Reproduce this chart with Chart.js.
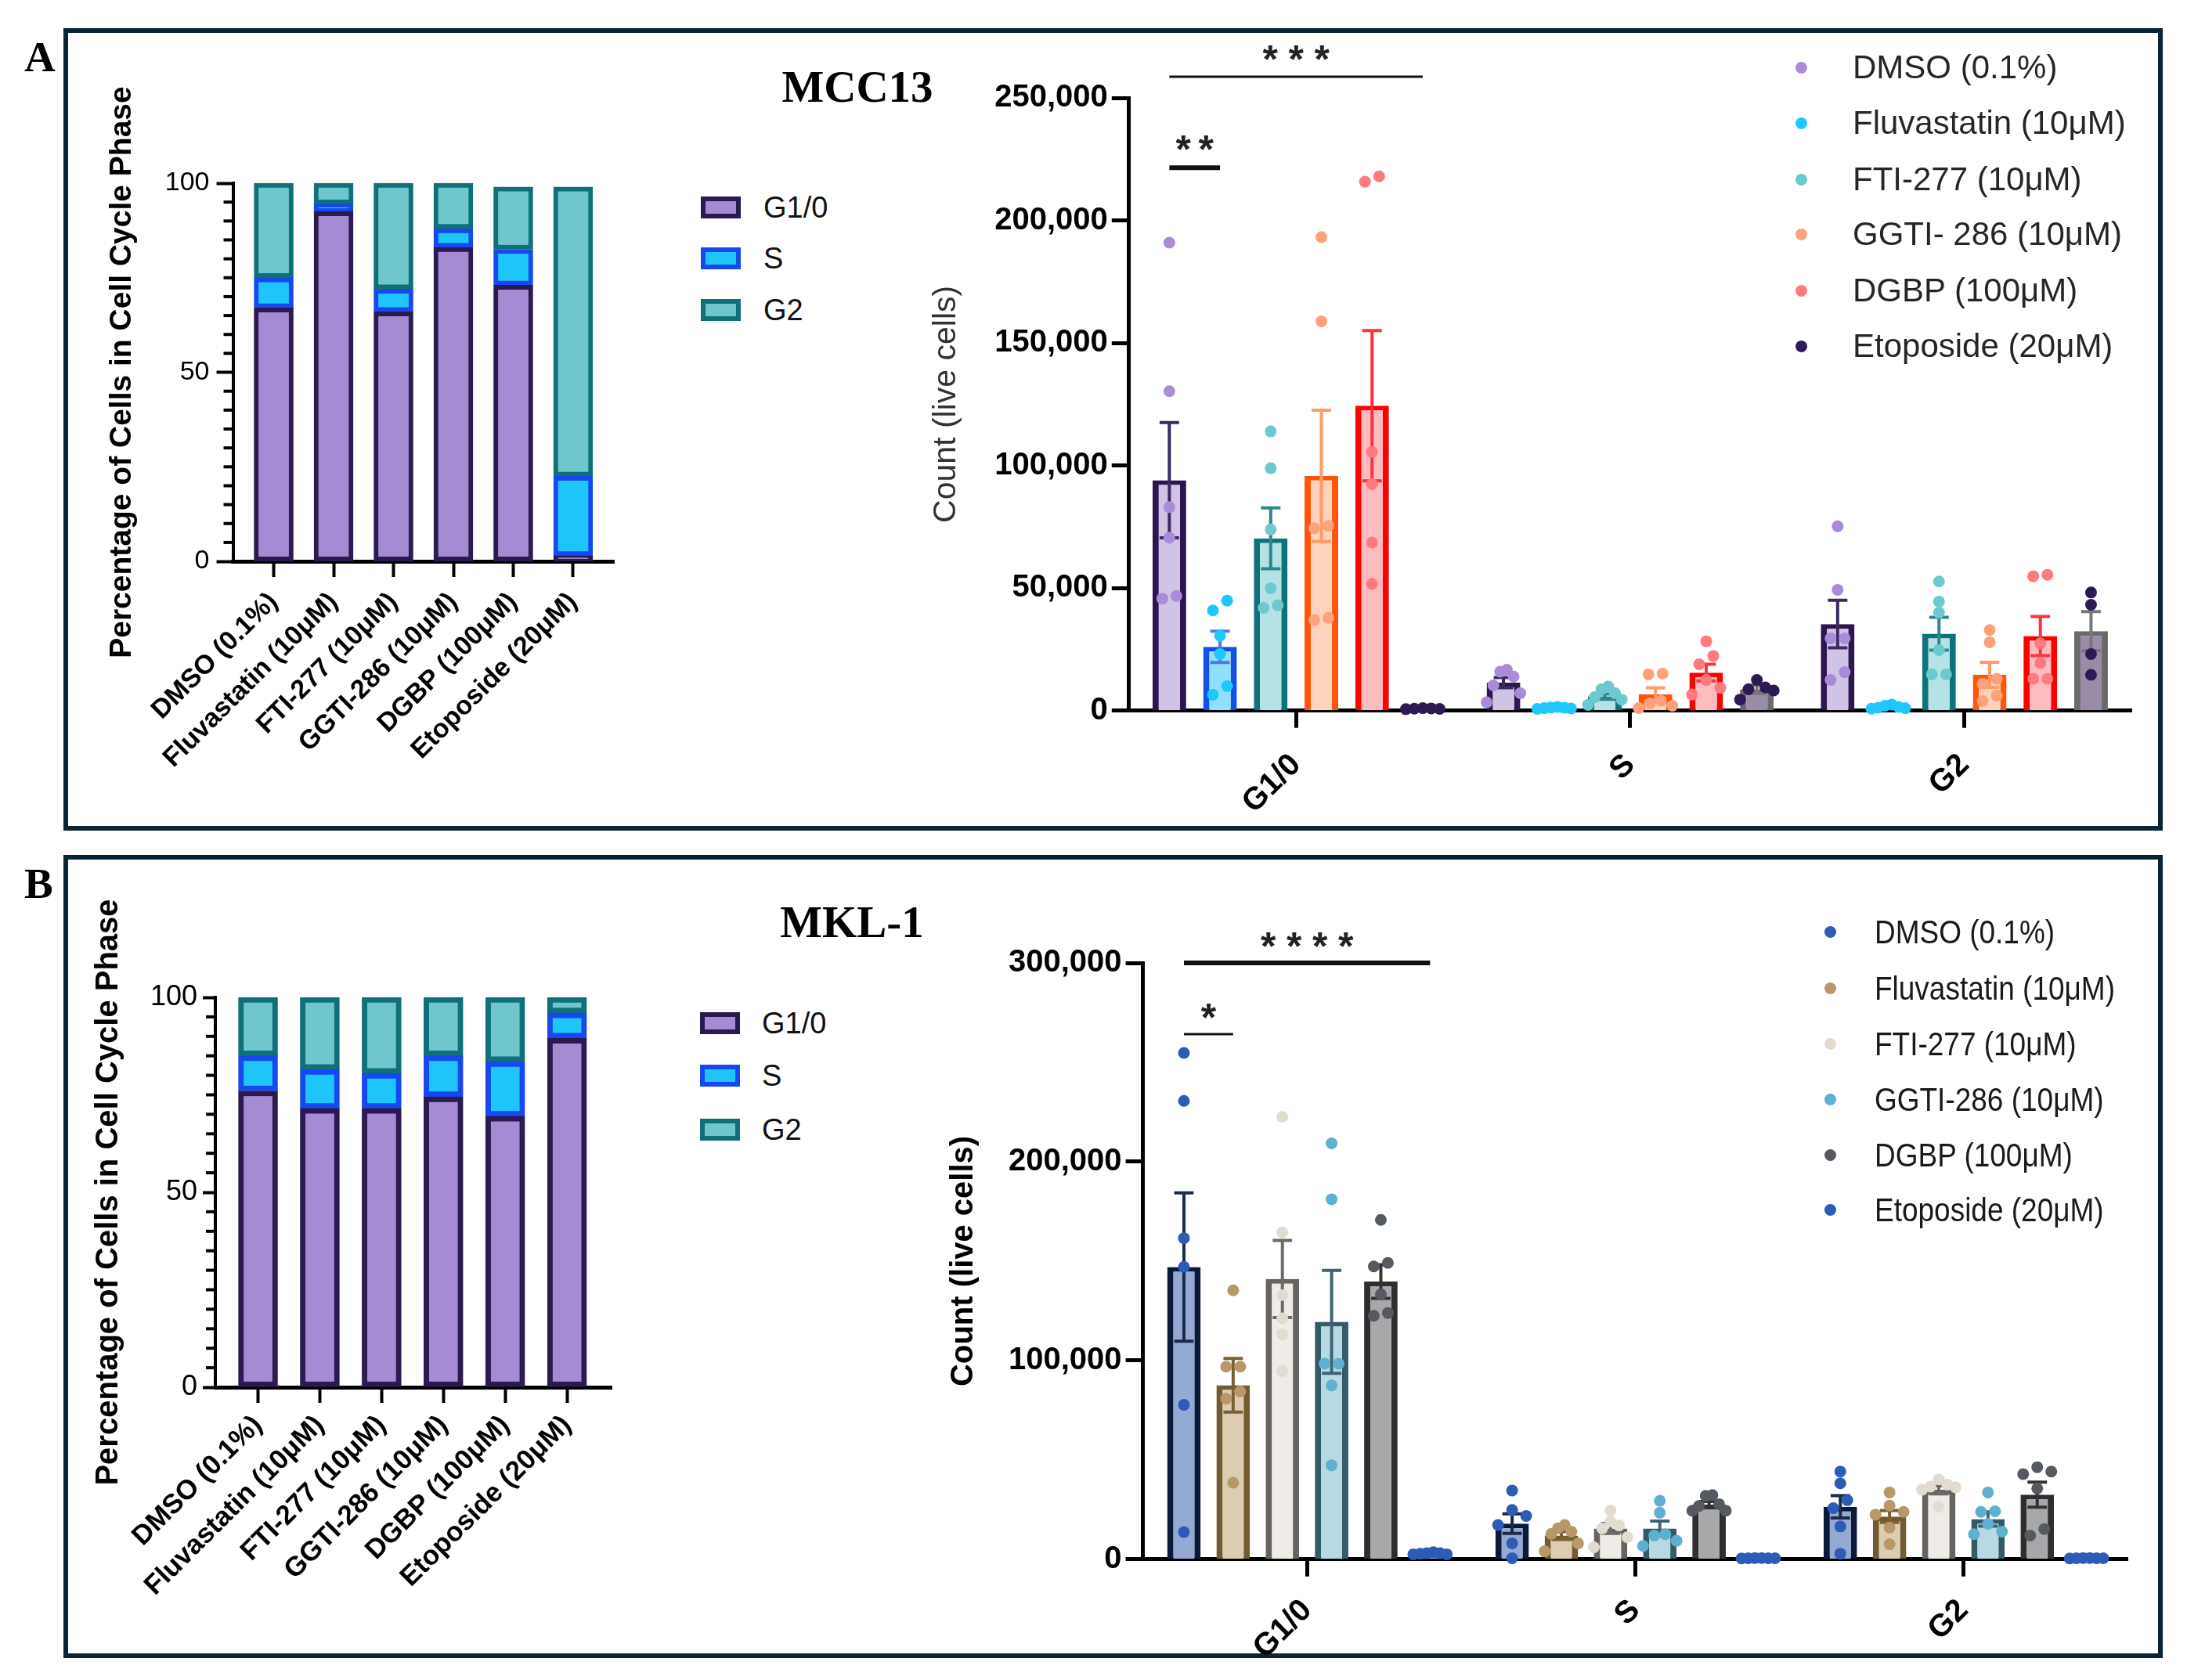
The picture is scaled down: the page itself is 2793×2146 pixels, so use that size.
<!DOCTYPE html>
<html lang="en"><head><meta charset="utf-8"><title>MCC13 / MKL-1 cell cycle</title>
<script src="https://cdn.jsdelivr.net/npm/chart.js@4.4.1/dist/chart.umd.min.js"></script>
<style>
html,body{margin:0;padding:0;background:#fff;}
body{position:relative;width:2793px;height:2146px;overflow:hidden;font-family:"Liberation Sans",Arial,sans-serif;color:#000;}
.frame{position:absolute;box-sizing:border-box;border:6px solid #0b2434;}
.serif{position:absolute;font-family:"Liberation Serif","Times New Roman",serif;font-weight:bold;line-height:1;white-space:nowrap;}
.wrap{position:absolute;left:0;top:0;}
.wrap canvas{display:block;}
.lg{position:absolute;white-space:nowrap;line-height:1;transform-origin:0 50%;}
.sq{position:absolute;box-sizing:border-box;}
.dot{position:absolute;border-radius:50%;}
</style></head><body>
<div class="frame" style="left:81px;top:36px;width:2681px;height:1025px"></div>
<div class="frame" style="left:81px;top:1092px;width:2681px;height:1026px"></div>
<div class="serif" style="left:31px;top:45px;font-size:55px">A</div>
<div class="serif" style="left:31px;top:1101px;font-size:55px">B</div>
<div class="serif" style="left:1095px;top:82px;font-size:57px;transform:translateX(-50%)">MCC13</div>
<div class="serif" style="left:1088px;top:1149px;font-size:57px;transform:translateX(-50%)">MKL-1</div>
<div class="wrap" id="wA1"><canvas id="cA1" width="1000" height="1000"></canvas></div>
<div class="wrap" id="wA2"><canvas id="cA2" width="1600" height="1100"></canvas></div>
<div class="wrap" id="wB1"><canvas id="cB1" width="1000" height="1000"></canvas></div>
<div class="wrap" id="wB2"><canvas id="cB2" width="1600" height="1100"></canvas></div>
<div id="legends"></div>
<script>
// ================= DATA =================
const phaseLabels = ['G1/0', 'S', 'G2'];
const pctCategories = ['DMSO (0.1%)', 'Fluvastatin (10μM)', 'FTI-277 (10μM)', 'GGTI-286 (10μM)', 'DGBP (100μM)', 'Etoposide (20μM)'];

// Percentage of cells in each phase (stacked bars)
const mcc13PctG1 = [67, 92.5, 66, 83, 73, 1.5];
const mcc13PctS  = [8, 2, 6, 5, 9.5, 21];
const mcc13PctG2 = [25, 5.5, 28, 12, 16.5, 76.5];

const mkl1PctG1 = [76, 71.5, 71.5, 74.5, 69.5, 89.5];
const mkl1PctS  = [9, 10, 9, 10.5, 14, 6.5];
const mkl1PctG2 = [15, 18.5, 19.5, 15, 16.5, 4];

// Treatments (legend of the count charts)
const mcc13Treatments = ['DMSO (0.1%)', 'Fluvastatin (10μM)', 'FTI-277 (10μM)', 'GGTI- 286 (10μM)', 'DGBP (100μM)', 'Etoposide (20μM)'];
const mkl1Treatments  = ['DMSO (0.1%)', 'Fluvastatin (10μM)', 'FTI-277 (10μM)', 'GGTI-286 (10μM)', 'DGBP (100μM)', 'Etoposide (20μM)'];

// MCC13 counts: mean and SEM per phase (one value per treatment)
const mcc13MeanG1 = [94000, 26000, 70300, 95800, 124400, 800];
const mcc13MeanS  = [11400, 1100, 5800, 6600, 15500, 8700];
const mcc13MeanG2 = [35300, 1500, 31400, 14600, 30400, 32400];
const mcc13SemG1  = [23500, 6400, 12400, 26800, 30700, 100];
const mcc13SemS   = [2100, 200, 1000, 2700, 3400, 1700];
const mcc13SemG2  = [9700, 300, 6700, 5100, 8000, 8000];

// MCC13 individual replicates: [G1/0, S, G2]
const mcc13PtsDMSO = [[190900, 130300, 83000, 70600, 45700, 46800], [16700, 15900, 13900, 10300, 7100, 3400], [75200, 49300, 29500, 29500, 15700, 12500]];
const mcc13PtsFluv = [[44900, 40900, 30600, 23100, 10000, 6500], [1500, 1200, 900, 1300, 1000, 700], [2500, 2000, 1500, 1200, 1000, 800]];
const mcc13PtsFTI  = [[113900, 98900, 73900, 49900, 41900, 43000], [9800, 8700, 7100, 5500, 4500, 2300], [52700, 44500, 40000, 24700, 14800, 14800]];
const mcc13PtsGGTI = [[193200, 158800, 74400, 75400, 37000, 37900], [15100, 14800, 4000, 2900, 2000, 1000], [32900, 27900, 13000, 10900, 6100, 3900]];
const mcc13PtsDGBP = [[215800, 218000, 105600, 92500, 68600, 51700], [28300, 22300, 18900, 12500, 9300, 6600], [54800, 55400, 27400, 19400, 13000, 13000]];
const mcc13PtsEtop = [[600, 800, 1000, 900, 700], [12500, 9500, 8700, 8200, 4500], [48200, 43200, 23100, 14600]];

// MKL-1 counts
const mkl1MeanG1 = [147000, 87500, 141000, 119400, 139700, 3000];
const mkl1MeanS  = [17900, 11900, 15500, 15500, 27500, 500];
const mkl1MeanG2 = [26400, 21500, 34900, 20200, 32500, 500];
const mkl1SemG1  = [37300, 13500, 19400, 25900, 8500, 300];
const mkl1SemS   = [4900, 2000, 2500, 3700, 1500, 50];
const mkl1SemG2  = [5600, 3000, 2000, 3600, 6300, 50];

const mkl1PtsDMSO = [[254700, 230600, 161500, 147100, 77700, 13700], [34600, 24800, 21800, 17200, 8000, 500], [44100, 38200, 29700, 25700, 16500, 2800]];
const mkl1PtsFluv = [[135300, 96900, 96900, 84400, 80800, 38500], [17200, 15600, 13900, 12800, 8000, 4000], [33600, 27000, 23800, 22400, 15900, 7600]];
const mkl1PtsFTI  = [[222500, 164400, 132900, 121200, 113100, 94600], [24500, 19000, 17000, 15500, 11000, 6000], [40200, 37500, 36500, 36200, 35000, 26400]];
const mkl1PtsGGTI = [[209200, 181100, 98400, 98400, 87400, 47300], [29400, 23400, 12600, 11900, 9300, 6700], [33600, 23800, 24100, 17800, 13900, 12600]];
const mkl1PtsDGBP = [[170700, 149100, 147300, 133300, 122500, 123900], [32300, 31900, 27700, 26800, 24400, 24400], [46300, 44100, 42800, 35600, 15200, 11900]];
const mkl1PtsEtop = [[2500, 3000, 3500, 3000, 2500, 2800], [500, 600, 400, 500, 600, 500], [500, 600, 400, 500, 600, 500]];

// Significance annotations (treatment index pairs)
const mcc13Sig = [{from: 0, to: 5, value: 258600, stars: '***', lw: 3, gap: 33, dy: 34}, {from: 0, to: 1, value: 221500, stars: '**', lw: 6, gap: 29, dy: 35}];
const mkl1Sig  = [{from: 0, to: 5, value: 300000, stars: '****', lw: 6, gap: 33, dy: 33}, {from: 0, to: 1, value: 264200, stars: '*', lw: 3, gap: 30, dy: 33}];

// ================= STYLES =================
const phaseFill   = ['#a58bd3', '#1fc4fb', '#6fc6cc'];
const phaseBorder = ['#2b1a50', '#1648ee', '#10707a'];

const mccFill   = ['#cfc3e6', '#8fdffd', '#b5e2e5', '#fdd3bd', '#fdbcbe', '#9a8ba8'];
const mccBorder = ['#2d1650', '#1450e8', '#0e727a', '#ff5508', '#ff0000', '#6a6a6a'];
const mccErr    = ['#3b2a60', '#4a78f0', '#2b8890', '#ff9a6a', '#ff3040', '#777777'];
const mccDot    = ['#a98bd8', '#1ec8ff', '#6cc9cf', '#ffa27c', '#ff7a7c', '#2d1a55'];

const mklFill   = ['#94a9d4', '#dccdb0', '#efebe6', '#b6d9e4', '#a8a8aa', '#94a9d4'];
const mklBorder = ['#0c1a3a', '#735a32', '#676460', '#335a66', '#2e2e2e', '#0c1a3a'];
const mklErr    = ['#1a2a4a', '#7a6035', '#6a6a6a', '#3d6470', '#333333', '#1a2a4a'];
const mklDot    = ['#2d5bb5', '#b89868', '#e3dbd0', '#5fb0d0', '#555a60', '#2d5bb5'];

const FONT = '"Liberation Sans", Arial, sans-serif';
Chart.defaults.font.family = FONT;
Chart.defaults.color = '#000';

// horizontal spread of overlapping replicate points (in bar-width units, zig-zag)
function spread(vals, thr) {
  const idx = vals.map((v, i) => i).sort((a, b) => vals[a] - vals[b]);
  const off = new Array(vals.length).fill(0);
  let cl = [idx[0]];
  const flush = () => {
    const n = cl.length;
    const step = n > 1 ? Math.min(0.42, 1.0 / (n - 1)) : 0;
    cl.forEach((k, j) => {
      const pos = (j % 2 === 0) ? j / 2 : n - 1 - (j - 1) / 2;
      off[k] = (pos - (n - 1) / 2) * step;
    });
  };
  for (let j = 1; j < idx.length; j++) {
    if (vals[idx[j]] - vals[idx[j - 1]] < thr) cl.push(idx[j]);
    else { flush(); cl = [idx[j]]; }
  }
  flush();
  return off;
}

// ================= PLUGINS =================
const errorBars = {
  id: 'errorBars',
  afterDatasetDraw(chart, args) {
    const meta = args.meta;
    if (meta.type !== 'bar') return;
    const ds = chart.data.datasets[args.index];
    if (!ds.sem) return;
    const y = chart.scales.y, ctx = chart.ctx;
    ctx.save();
    ctx.strokeStyle = ds.errColor || ds.borderColor;
    ctx.lineWidth = 4;
    meta.data.forEach((bar, i) => {
      const m = ds.data[i], s = ds.sem[i];
      const yt = y.getPixelForValue(m + s), yb = y.getPixelForValue(Math.max(0, m - s));
      const half = bar.width * 0.29;
      ctx.beginPath();
      ctx.moveTo(bar.x, yt); ctx.lineTo(bar.x, yb);
      ctx.moveTo(bar.x - half, yt); ctx.lineTo(bar.x + half, yt);
      ctx.moveTo(bar.x - half, yb); ctx.lineTo(bar.x + half, yb);
      ctx.stroke();
    });
    ctx.restore();
  }
};

// individual replicate points, placed on each bar through the chart's own scales
const replicatePoints = {
  id: 'replicatePoints',
  afterDatasetsDraw(chart) {
    const y = chart.scales.y, ctx = chart.ctx;
    chart.data.datasets.forEach((ds, d) => {
      if (!ds.pts) return;
      const meta = chart.getDatasetMeta(d);
      ctx.save();
      ctx.fillStyle = ds.ptColor;
      ds.pts.forEach((vals, g) => {
        const bar = meta.data[g];
        const off = spread(vals, ds.ptThr);
        vals.forEach((v, k) => {
          ctx.beginPath();
          ctx.arc(bar.x + off[k] * bar.width, y.getPixelForValue(v), 7.5, 0, Math.PI * 2);
          ctx.fill();
        });
      });
      ctx.restore();
    });
  }
};

const minorTicks = {
  id: 'minorTicks',
  afterDraw(chart, args, opts) {
    if (!opts || !opts.step) return;
    const y = chart.scales.y, ctx = chart.ctx, x0 = chart.chartArea.left;
    ctx.save();
    ctx.strokeStyle = '#000';
    ctx.lineWidth = opts.width;
    for (let v = y.min + opts.step; v < y.max; v += opts.step) {
      if (Math.abs(v % opts.major) < 1e-6) continue;
      const py = y.getPixelForValue(v);
      ctx.beginPath(); ctx.moveTo(x0 - opts.len, py); ctx.lineTo(x0, py); ctx.stroke();
    }
    ctx.restore();
  }
};

const sigMarks = {
  id: 'sigMarks',
  afterDraw(chart, args, opts) {
    if (!opts || !opts.marks) return;
    const y = chart.scales.y, ctx = chart.ctx;
    opts.marks.forEach(m => {
      const x1 = chart.getDatasetMeta(m.from).data[0].x;
      const x2 = chart.getDatasetMeta(m.to).data[0].x;
      const yy = y.getPixelForValue(m.value);
      ctx.save();
      ctx.strokeStyle = '#111'; ctx.lineWidth = m.lw;
      ctx.beginPath(); ctx.moveTo(x1, yy); ctx.lineTo(x2, yy); ctx.stroke();
      ctx.fillStyle = '#222';
      ctx.font = 'bold 50px ' + FONT;
      ctx.textAlign = 'center'; ctx.textBaseline = 'alphabetic';
      const n = m.stars.length, cx = (x1 + x2) / 2;
      for (let k = 0; k < n; k++) ctx.fillText(m.stars[k], cx + (k - (n - 1) / 2) * m.gap, yy - m.dy + 29);
      ctx.restore();
    });
  }
};
Chart.register(errorBars, replicatePoints, minorTicks, sigMarks);

// ================= HELPERS =================
function place(chart, wrapId, T) {
  for (let pass = 0; pass < 3; pass++) {
    const ca = chart.chartArea;
    const mL = ca.left, mT = ca.top, mR = chart.width - ca.right, mB = chart.height - ca.bottom;
    chart.resize(Math.round(T.r - T.l + mL + mR), Math.round(T.b - T.t + mT + mB));
  }
  const ca = chart.chartArea;
  const w = document.getElementById(wrapId);
  w.style.left = (T.l - ca.left) + 'px';
  w.style.top = (T.t - ca.top) + 'px';
}

function pctChart(canvasId, o) {
  const series = [o.g1, o.s, o.g2];
  const datasets = series.map((arr, p) => ({
    label: phaseLabels[p],
    data: arr.map((v, i) => ({x: i, y: v})),
    backgroundColor: phaseFill[p], borderColor: phaseBorder[p],
    borderWidth: o.bw, borderSkipped: false, barThickness: o.barW, clip: false
  }));
  return new Chart(document.getElementById(canvasId), {
    type: 'bar',
    data: {datasets},
    options: {
      responsive: false, maintainAspectRatio: false, animation: false, devicePixelRatio: 1,
      layout: {padding: {top: 170, right: 10, bottom: 20, left: 10}},
      plugins: {legend: {display: false}, tooltip: {enabled: false},
        minorTicks: {step: 5, major: 50, len: 12, width: 4}},
      scales: {
        x: {type: 'linear', stacked: true, min: o.xmin, max: o.xmax, offset: false,
          afterBuildTicks: s => { s.ticks = pctCategories.map((c, i) => ({value: i})); },
          ticks: {autoSkip: false, minRotation: 45, maxRotation: 45, padding: o.xPad, color: '#000',
            font: {size: o.xFont, weight: 'bold'}, callback: v => pctCategories[v]},
          grid: {display: true, drawOnChartArea: false, offset: false, tickLength: 20, tickWidth: 4, tickColor: '#000'},
          border: {display: true, color: '#000', width: 5}},
        y: {stacked: true, min: 0, max: 100,
          ticks: {stepSize: 50, padding: o.yPad, color: '#000', font: {size: o.yFont}},
          grid: {display: true, drawOnChartArea: false, tickLength: o.tick, tickWidth: 4, tickColor: '#000'},
          border: {display: true, color: '#000', width: 4},
          title: {display: true, text: 'Percentage of Cells in Cell Cycle Phase', color: '#000',
            font: {size: o.titleFont, weight: 'bold'}, padding: {top: 0, bottom: o.titlePad}}}
      }
    }
  });
}

function countChart(canvasId, o) {
  const datasets = o.names.map((name, d) => ({
    type: 'bar', label: name,
    data: o.means.map(arr => arr[d]), sem: o.sems.map(arr => arr[d]), errColor: o.err[d],
    pts: o.points[d], ptColor: o.dot[d], ptThr: o.thr,
    backgroundColor: o.fill[d], borderColor: o.border[d],
    borderWidth: {top: 6, left: 8, right: 8, bottom: 0}, borderSkipped: 'start',
    categoryPercentage: o.cp, barPercentage: o.bp, clip: false
  }));
  return new Chart(document.getElementById(canvasId), {
    type: 'bar',
    data: {labels: phaseLabels, datasets},
    options: {
      responsive: false, maintainAspectRatio: false, animation: false, devicePixelRatio: 1,
      layout: {padding: {top: o.padTop, right: 10, bottom: 10, left: 10}},
      plugins: {legend: {display: false}, tooltip: {enabled: false}, sigMarks: {marks: o.sig}},
      scales: {
        x: {type: 'category', offset: true,
          grid: {display: true, drawOnChartArea: false, offset: false, tickLength: 22, tickWidth: 5, tickColor: '#000'},
          border: {display: true, color: '#000', width: 5},
          ticks: {autoSkip: false, minRotation: 45, maxRotation: 45, padding: o.xPad, color: '#000', font: {size: 40, weight: 'bold'}}},
        y: {min: 0, max: o.ymax,
          ticks: {stepSize: o.step, padding: 5, color: '#000', font: {size: 40, weight: 'bold'},
            callback: v => v.toLocaleString('en-US')},
          grid: {display: true, drawOnChartArea: false, tickLength: 22, tickWidth: 5, tickColor: '#000'},
          border: {display: true, color: '#000', width: 5},
          title: {display: true, text: 'Count (live cells)', color: o.titleColor,
            font: {size: o.titleFont, weight: o.titleWeight}, padding: {top: 0, bottom: o.titlePad}}}
      }
    }
  });
}

// ================= CHARTS =================
const chA1 = pctChart('cA1', {g1: mcc13PctG1, s: mcc13PctS, g2: mcc13PctG2, bw: 6, barW: 50,
  xmin: -0.68, xmax: 5.68, xFont: 34, xPad: 12, yFont: 34, yPad: 9, tick: 21, titleFont: 39, titlePad: 22});
place(chA1, 'wA1', {l: 298, r: 784, t: 234, b: 717});

const chB1 = pctChart('cB1', {g1: mkl1PctG1, s: mkl1PctS, g2: mkl1PctG2, bw: 7, barW: 50,
  xmin: -0.69, xmax: 5.72, xFont: 35, xPad: 8, yFont: 36, yPad: 7, tick: 16, titleFont: 40, titlePad: 22});
place(chB1, 'wB1', {l: 275, r: 781, t: 1274, b: 1772});

const chA2 = countChart('cA2', {
  names: mcc13Treatments,
  means: [mcc13MeanG1, mcc13MeanS, mcc13MeanG2], sems: [mcc13SemG1, mcc13SemS, mcc13SemG2],
  points: [mcc13PtsDMSO, mcc13PtsFluv, mcc13PtsFTI, mcc13PtsGGTI, mcc13PtsDGBP, mcc13PtsEtop],
  fill: mccFill, border: mccBorder, err: mccErr, dot: mccDot,
  cp: 0.91, bp: 0.665, thr: 4500, ymax: 250000, step: 50000, padTop: 100, sig: mcc13Sig, xPad: 24,
  titleColor: '#333', titleFont: 41, titleWeight: 'normal', titlePad: 32});
place(chA2, 'wA2', {l: 1442, r: 2722, t: 125, b: 908});

const chB2 = countChart('cB2', {
  names: mkl1Treatments,
  means: [mkl1MeanG1, mkl1MeanS, mkl1MeanG2], sems: [mkl1SemG1, mkl1SemS, mkl1SemG2],
  points: [mkl1PtsDMSO, mkl1PtsFluv, mkl1PtsFTI, mkl1PtsGGTI, mkl1PtsDGBP, mkl1PtsEtop],
  fill: mklFill, border: mklBorder, err: mklErr, dot: mklDot,
  cp: 0.9, bp: 0.68, thr: 5500, ymax: 300000, step: 100000, padTop: 90, sig: mkl1Sig, xPad: 20,
  titleColor: '#000', titleFont: 40, titleWeight: 'bold', titlePad: 28});
place(chB2, 'wB2', {l: 1460, r: 2717, t: 1230, b: 1992});

// ================= LEGENDS (HTML, built from the data arrays) =================
const legendRoot = document.getElementById('legends');
function addText(x, yc, size, txt, color, sx) {
  const t = document.createElement('div');
  t.className = 'lg';
  t.textContent = txt;
  t.style.left = x + 'px';
  t.style.top = (yc - 0.49 * size) + 'px';
  t.style.fontSize = size + 'px';
  t.style.color = color;
  if (sx) t.style.transform = 'scaleX(' + sx + ')';
  legendRoot.appendChild(t);
}
function squareLegend(x0, rows, textX) {
  phaseLabels.forEach((lab, p) => {
    const s = document.createElement('div');
    s.className = 'sq';
    Object.assign(s.style, {left: x0 + 'px', top: (rows[p] - 14) + 'px', width: '51px', height: '28px',
      background: phaseFill[p], border: '6px solid ' + phaseBorder[p]});
    legendRoot.appendChild(s);
    addText(textX, rows[p], 38, lab, '#111');
  });
}
function dotLegend(names, colors, dotX, rows, textX, size, color, sx) {
  names.forEach((n, d) => {
    const s = document.createElement('div');
    s.className = 'dot';
    Object.assign(s.style, {left: (dotX - 7.5) + 'px', top: (rows[d] - 7.5) + 'px', width: '15px', height: '15px', background: colors[d]});
    legendRoot.appendChild(s);
    addText(textX, rows[d], size, n, color, sx);
  });
}
squareLegend(895, [265, 330, 396], 975);
squareLegend(894, [1307, 1374, 1443], 973);
dotLegend(mcc13Treatments, mccDot, 2300, [86, 157, 229, 299, 371, 442], 2366, 42, '#262626');
dotLegend(mkl1Treatments, mklDot, 2337, [1190, 1262, 1333, 1404, 1475, 1545], 2394, 43, '#1a1a1a', 0.86);
</script>
</body></html>
